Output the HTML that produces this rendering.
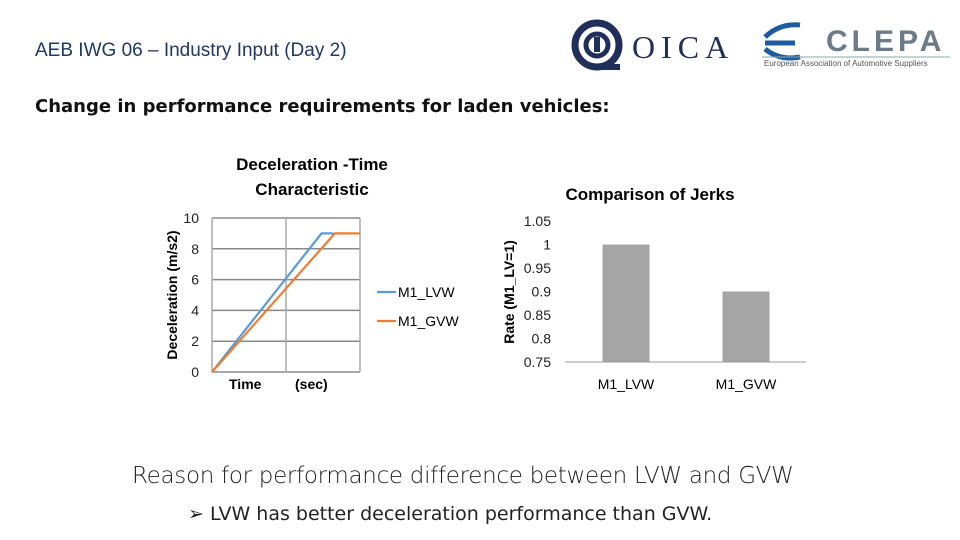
<!DOCTYPE html>
<html><head><meta charset="utf-8"><style>
body{margin:0;width:960px;height:540px;background:#fff;font-family:"Liberation Sans",sans-serif;position:relative;overflow:hidden}
.a{position:absolute;white-space:nowrap}
</style></head><body>
<div class="a" style="left:35px;top:40px;font-size:19px;color:#1f3864">AEB IWG 06 – Industry Input (Day 2)</div>
<div class="a" style="left:35px;top:96px;font-size:18px;font-weight:bold;font-family:'DejaVu Sans',sans-serif;color:#111">Change in performance requirements for laden vehicles:</div>
<svg class="a" style="left:560px;top:15px" width="180" height="60">
<circle cx="37" cy="30" r="22" fill="none" stroke="#1f2f5a" stroke-width="7"/><circle cx="37" cy="30" r="11" fill="none" stroke="#1f2f5a" stroke-width="5"/><rect x="34" y="22" width="6" height="15" fill="#1f2f5a"/><line x1="37" y1="52" x2="60" y2="52" stroke="#1f2f5a" stroke-width="6"/>
<text x="72" y="43" font-family="Liberation Serif" font-size="32" fill="#1f2f5a" letter-spacing="6">OICA</text></svg>
<svg class="a" style="left:760px;top:15px" width="195" height="55">
<path d="M5 22 Q20 8 40 10 M5 28 L35 28 M5 34 Q20 46 40 42" stroke="#1e5aa0" stroke-width="5" fill="none"/>
<text x="66" y="36" font-size="30" font-weight="bold" fill="#6d7b86" letter-spacing="4">CLEPA</text>
<line x1="2" y1="42" x2="190" y2="42" stroke="#8aa" stroke-width="1"/>
<text x="4" y="51" font-size="8" fill="#555">European Association of Automotive Suppliers</text></svg>

<svg class="a" id="c1" style="left:0;top:0" width="500" height="420"></svg>
<svg class="a" id="c2" style="left:0;top:0" width="960" height="420"></svg>

<div class="a" style="left:132px;top:463px;font-size:23px;font-family:'DejaVu Sans',sans-serif;font-weight:300;color:#222;letter-spacing:-0.3px">Reason for performance difference between LVW and GVW</div>
<div class="a" style="left:188px;top:503px;font-size:19px;font-family:'DejaVu Sans',sans-serif;color:#222">➢ LVW has better deceleration performance than GVW.</div>
<script>
const ns="http://www.w3.org/2000/svg";
function mk(p,t,a,txt){const e=document.createElementNS(ns,t);for(const k in a)e.setAttribute(k,a[k]);if(txt!=null)e.textContent=txt;p.appendChild(e);return e;}
// Chart 1 data
const yTicks1=[0,2,4,6,8,10];
const lvwT=[0,7.4,8.2];
const lvwD=[0,9,9];
const gvwT=[0,8.3,10];
const gvwD=[0,9,9];
const c1=document.getElementById('c1');
const x1=t=>212+t*14.8, y1=v=>372-v*15.4;
mk(c1,'text',{x:312,y:170,'text-anchor':'middle','font-size':17,'font-weight':'bold'},'Deceleration -Time');
mk(c1,'text',{x:312,y:195,'text-anchor':'middle','font-size':17,'font-weight':'bold'},'Characteristic');
yTicks1.forEach(v=>{const l=mk(c1,'line',{x1:212,x2:360,y1:y1(v),y2:y1(v),stroke:'#888','stroke-width':1.5});

mk(c1,'text',{x:199,y:y1(v)+5,'text-anchor':'end','font-size':14,fill:'#222'},v);});
[0,5,10].forEach(t=>mk(c1,'line',{x1:x1(t),x2:x1(t),y1:y1(10),y2:y1(0),stroke:'#aaa','stroke-width':1.5}));
const p1=mk(c1,'polyline',{points:lvwT.map((t,i)=>x1(t)+','+y1(lvwD[i])).join(' '),fill:'none',stroke:'#5b9bd5','stroke-width':2.2});

const p2=mk(c1,'polyline',{points:gvwT.map((t,i)=>x1(t)+','+y1(gvwD[i])).join(' '),fill:'none',stroke:'#ed7d31','stroke-width':2.2});

mk(c1,'text',{x:229,y:389,'font-size':14,'font-weight':'bold'},'Time');
mk(c1,'text',{x:295,y:389,'font-size':14,'font-weight':'bold'},'(sec)');
mk(c1,'text',{transform:'translate(177,295) rotate(-90)','text-anchor':'middle','font-size':14,'font-weight':'bold'},'Deceleration (m/s2)');
mk(c1,'line',{x1:377,x2:396,y1:292,y2:292,stroke:'#5b9bd5','stroke-width':2.2});
mk(c1,'text',{x:398,y:297,'font-size':14},'M1_LVW');
mk(c1,'line',{x1:377,x2:396,y1:321,y2:321,stroke:'#ed7d31','stroke-width':2.2});
mk(c1,'text',{x:398,y:326,'font-size':14},'M1_GVW');
// Chart 2 data
const cats=['M1_LVW','M1_GVW'];
const jerk=[1,0.9];
const yTicks2=['0.75','0.8','0.85','0.9','0.95','1','1.05'];
const c2=document.getElementById('c2');
const y2=v=>362-(v-0.75)/0.3*141;
const xc=i=>626+i*120;
mk(c2,'text',{x:650,y:200,'text-anchor':'middle','font-size':17,'font-weight':'bold'},'Comparison of Jerks');
yTicks2.forEach(s=>mk(c2,'text',{x:551,y:y2(+s)+5,'text-anchor':'end','font-size':14,fill:'#222'},s));
mk(c2,'text',{transform:'translate(514,292) rotate(-90)','text-anchor':'middle','font-size':14,'font-weight':'bold'},'Rate (M1_LV=1)');
jerk.forEach((v,i)=>{const r=mk(c2,'rect',{x:xc(i)-23.5,y:y2(v),width:47,height:y2(0.75)-y2(v),fill:'#a5a5a5'});

mk(c2,'text',{x:xc(i),y:389,'text-anchor':'middle','font-size':14},cats[i]);});
mk(c2,'line',{x1:565,x2:806,y1:362,y2:362,stroke:'#999','stroke-width':1});
</script>
</body></html>
